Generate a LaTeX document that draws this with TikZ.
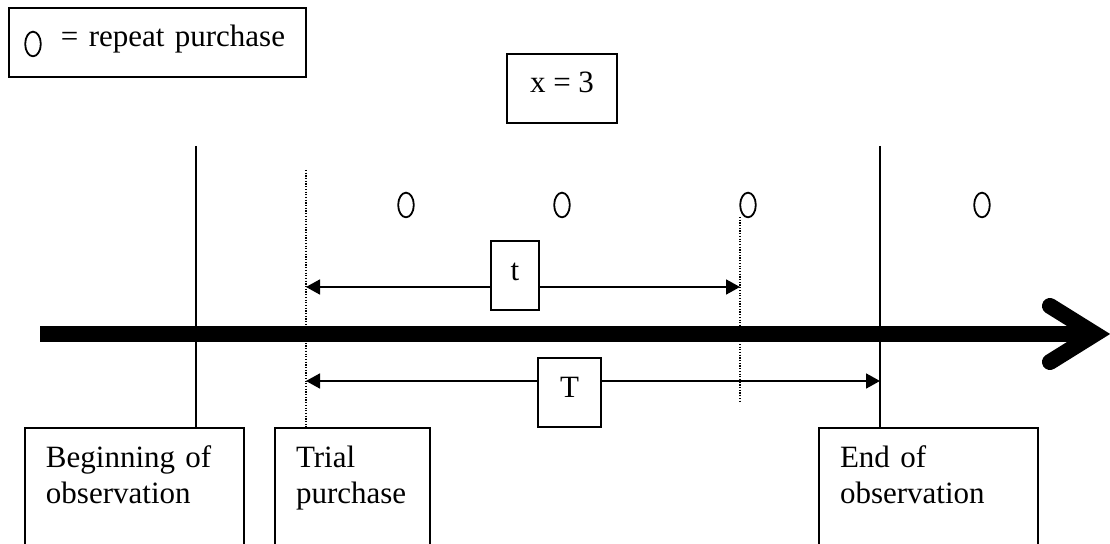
\documentclass[tikz,border=0pt]{standalone}
\usepackage{fontspec}
\setmainfont{Liberation Serif}
\usetikzlibrary{arrows.meta,shapes.geometric,positioning}
\definecolor{ink}{HTML}{000000}
\tikzset{
  dimarr/.style={-{Triangle[length=7pt,width=7.5pt]},line width=0.9pt,color=ink},
  guide/.style={line width=1pt,color=ink},
  dotguide/.style={line width=0.8pt,color=ink,dash pattern=on 0.6pt off 0.75pt},
  timeline/.style={line width=8pt,color=ink},
  headstroke/.style={line width=8pt,color=ink,line cap=round},
  purchase/.style={ellipse,draw=ink,line width=0.9pt,minimum width=7.8pt,minimum height=12.3pt,inner sep=0pt},
  valbox/.style={draw=ink,line width=1pt,inner sep=4pt,text height=15.5pt,text depth=11pt,font=\fontsize{15.5}{18}\selectfont},
  eventbox/.style={draw=ink,line width=1pt,anchor=north west,align=left,inner xsep=10.5pt,inner ysep=9pt,text height=11pt,text depth=36pt,font=\fontsize{15.5}{18}\selectfont}
}
\begin{document}
\begin{tikzpicture}[x=0.5pt,y=-0.5pt]
  \clip (0,0) rectangle (1110,544);
  % key and count
  \node[valbox,text width=140.5pt,align=left,anchor=north west] (legend) at (8,7) {\hspace*{22pt}= repeat purchase};
  \node[purchase] (key) at (33,44) {};
  \node[valbox,minimum width=55pt] (count) at (562,88.5) {x = 3};
  \foreach \px/\n in {406/1,562/2,748/3,982/4}
    \node[purchase] (p\n) at (\px,205) {};
  % event boxes below the axis
  \node[eventbox,text width=88.5pt] (begin) at (24,427) {Beginning of\\observation};
  \node[eventbox,text width=56.5pt] (trial) at (274,427) {Trial\\purchase};
  \node[eventbox,text width=88.5pt] (finish) at (818,427) {End of\\observation};
  \coordinate (obsstart) at (196,146);
  \coordinate (trialtop) at (306,170);
  \coordinate (obsend) at (880,146);
  \coordinate (lasttop) at (740,217);
  \coordinate (lastbot) at (740,402);
  \draw[guide] (obsstart) -- (obsstart |- begin.north);
  \draw[dotguide] (trialtop) -- (trialtop |- trial.north);
  \draw[guide] (obsend) -- (obsend |- finish.north);
  \draw[dotguide] (lasttop) -- (lastbot);
  % time axis
  \coordinate (tstart) at (40,334);
  \coordinate (tip) at (1095,334);
  \draw[timeline] (tstart) -- (tip);
  \draw[headstroke] (tip) ++(-45,-28) -- (tip) -- ++(-45,28);
  % t and T spans
  \node[valbox,minimum width=24pt] (gapbox) at (515,276) {t};
  \node[valbox,minimum width=31.5pt] (spanbox) at (569.5,393) {T};
  \coordinate (tleft) at (306,287);
  \coordinate (tright) at (740,287);
  \coordinate (Tleft) at (306,381);
  \coordinate (Tright) at (880,381);
  \draw[dimarr] (gapbox.west |- tleft) -- (tleft);
  \draw[dimarr] (gapbox.east |- tright) -- (tright);
  \draw[dimarr] (spanbox.west |- Tleft) -- (Tleft);
  \draw[dimarr] (spanbox.east |- Tright) -- (Tright);
\end{tikzpicture}
\end{document}
